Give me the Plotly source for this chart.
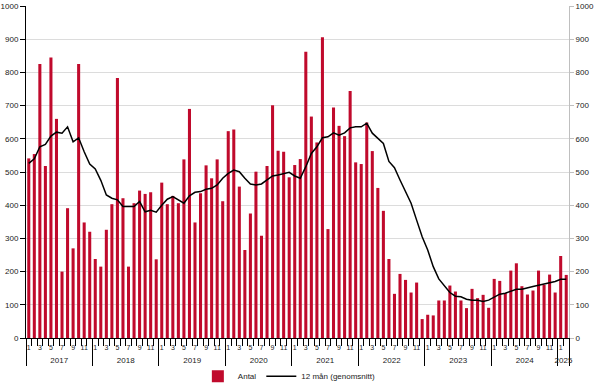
import plotly.graph_objects as go

years = [2017, 2018, 2019, 2020, 2021, 2022, 2023, 2024, 2025]

antal_2017 = [541, 554, 825, 518, 845, 660, 200, 391, 270, 825, 348, 320]
antal_2018 = [238, 215, 326, 403, 783, 421, 215, 406, 444, 434, 439, 237]
antal_2019 = [468, 403, 428, 406, 538, 690, 348, 436, 520, 481, 538, 412]
antal_2020 = [623, 628, 456, 265, 375, 501, 308, 518, 701, 564, 561, 484]
antal_2021 = [521, 539, 862, 667, 589, 906, 328, 694, 639, 608, 744, 529]
antal_2022 = [524, 649, 563, 452, 383, 238, 133, 193, 175, 137, 167, 57]
antal_2023 = [70, 68, 113, 113, 158, 140, 113, 90, 148, 120, 130, 91]
antal_2024 = [178, 172, 135, 203, 225, 156, 131, 143, 203, 160, 191, 137]
antal_2025 = [247, 190]

snitt_2017 = [526, 540, 576, 583, 608, 620, 617, 636, 591, 603, 561, 524]
snitt_2018 = [509, 475, 431, 421, 416, 396, 396, 396, 411, 380, 385, 379]
snitt_2019 = [400, 418, 426, 416, 406, 428, 439, 441, 448, 451, 461, 481]
snitt_2020 = [496, 506, 501, 481, 464, 461, 464, 476, 488, 491, 496, 499]
snitt_2021 = [488, 481, 516, 556, 576, 603, 606, 618, 611, 618, 633, 636]
snitt_2022 = [636, 647, 617, 601, 586, 532, 513, 476, 441, 406, 355, 305]
snitt_2023 = [265, 215, 178, 156, 137, 126, 124, 117, 114, 114, 110, 114]
snitt_2024 = [124, 132, 135, 142, 147, 147, 150, 155, 159, 163, 167, 170]
snitt_2025 = [177, 177]

antal = (antal_2017 + antal_2018 + antal_2019 + antal_2020 + antal_2021 +
         antal_2022 + antal_2023 + antal_2024 + antal_2025)
snitt = (snitt_2017 + snitt_2018 + snitt_2019 + snitt_2020 + snitt_2021 +
         snitt_2022 + snitt_2023 + snitt_2024 + snitt_2025)

n = len(antal)
idx = list(range(n))
months = [(i % 12) + 1 for i in idx]

month_tickvals = [i for i in idx if months[i] % 2 == 1]
month_ticktext = [str(months[i]) for i in month_tickvals]
month_bounds = [i - 0.5 for i in idx] + [n - 0.5]
year_bounds = [i - 0.5 for i in idx if months[i] == 1] + [n - 0.5]
year_centers = []
for k, y in enumerate(years):
    members = [i for i in idx if i // 12 == k]
    year_centers.append((members[0] + members[-1]) / 2)

xr = [-0.5, n - 0.5]
FONT = "Liberation Sans, Arial, sans-serif"

fig = go.Figure()
fig.add_trace(go.Bar(x=idx, y=antal, name="Antal", marker=dict(color="#C00A2C", line=dict(width=0)),
                     width=0.55))
fig.add_trace(go.Scatter(x=idx, y=snitt, name="12 mån (genomsnitt)", mode="lines",
                         line=dict(color="black", width=1.5)))
fig.add_trace(go.Scatter(x=[None], y=[None], xaxis="x2", yaxis="y2", showlegend=False, hoverinfo="skip"))
fig.add_trace(go.Scatter(x=[None], y=[None], xaxis="x3", yaxis="y", showlegend=False, hoverinfo="skip"))
fig.add_trace(go.Scatter(x=[None], y=[None], xaxis="x4", yaxis="y", showlegend=False, hoverinfo="skip"))

fig.update_layout(
    width=600, height=389,
    margin=dict(l=26, r=31, t=6, b=51, autoexpand=False),
    paper_bgcolor="white", plot_bgcolor="white",
    font=dict(family=FONT, size=8, color="#222"),
    bargap=0.45,
    showlegend=True,
    legend=dict(orientation="h", x=0.485, xanchor="center", y=-0.115, yanchor="middle",
                font=dict(size=8), itemwidth=30, tracegroupgap=0, bgcolor="rgba(0,0,0,0)"),
    # month boundary ticks
    xaxis=dict(range=xr, tickmode="array", tickvals=month_bounds, showticklabels=False,
               ticks="outside", ticklen=7, tickcolor="black", tickwidth=1, automargin=False,
               showline=True, linecolor="black", linewidth=1, showgrid=False, zeroline=False),
    # year boundary ticks
    xaxis2=dict(range=xr, overlaying="x", side="bottom", anchor="y", tickmode="array",
                tickvals=year_bounds, ticks="outside", ticklen=27, tickcolor="black", tickwidth=1,
                showticklabels=False, showgrid=False, zeroline=False, showline=False,
                automargin=False),
    # year labels
    xaxis3=dict(range=xr, overlaying="x", side="bottom", anchor="y", tickmode="array",
                tickvals=year_centers, ticktext=[str(y) for y in years],
                ticks="outside", ticklen=14, tickcolor="rgba(0,0,0,0)",
                tickfont=dict(size=8), tickangle=0, automargin=False,
                showgrid=False, zeroline=False, showline=False),
    # month labels
    xaxis4=dict(range=xr, overlaying="x", side="bottom", anchor="y", tickmode="array",
                tickvals=month_tickvals, ticktext=month_ticktext,
                ticks="outside", ticklen=3, tickcolor="rgba(0,0,0,0)",
                tickfont=dict(size=7), tickangle=0, automargin=False,
                showgrid=False, zeroline=False, showline=False),
    yaxis=dict(range=[0, 1000], dtick=100, tick0=0, gridcolor="#DCDCDC", gridwidth=1,
               showline=True, linecolor="black", linewidth=1, ticks="outside", ticklen=5,
               tickcolor="black", zeroline=False, tickfont=dict(size=8), automargin=False),
    yaxis2=dict(range=[0, 1000], dtick=100, tick0=0, overlaying="y", side="right", anchor="x",
                showgrid=False, showline=True, linecolor="#BFBFBF", linewidth=1,
                ticks="outside", ticklen=4, tickcolor="#BFBFBF", zeroline=False,
                tickfont=dict(size=8), automargin=False),
)

fig.write_html("out.html", config={"displayModeBar": False},
               post_script="document.body.style.margin='0';")
